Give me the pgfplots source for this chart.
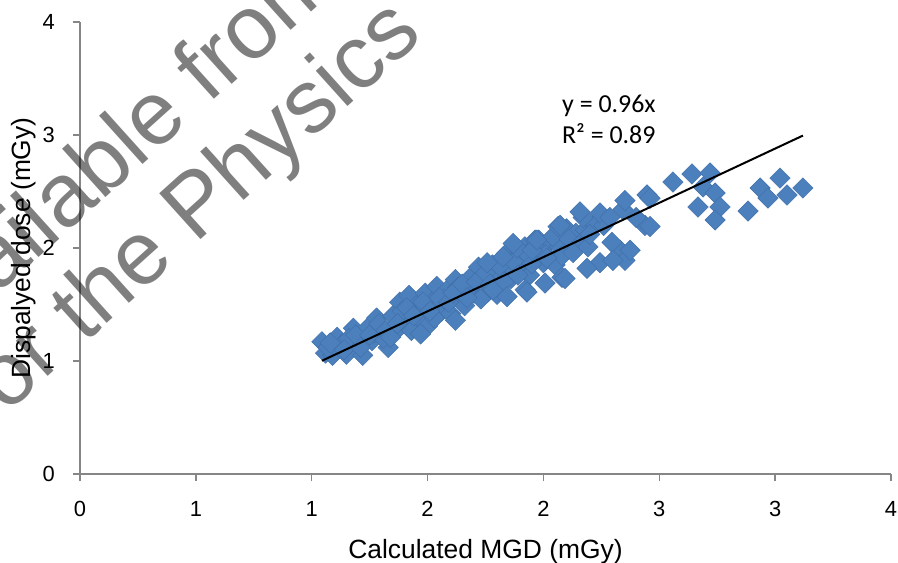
\documentclass[border=0pt]{standalone}
\usepackage{fontspec}
\setmainfont{Liberation Sans}
\newfontfamily\carlito{Carlito}
\usepackage{pgfplots}
\pgfplotsset{compat=1.18}
\definecolor{axgray}{RGB}{134,134,134}
\definecolor{mblue}{RGB}{76,128,189}
\definecolor{mblueedge}{RGB}{64,112,170}
\pgfplotstableread{
x y
1.044 1.17
1.06 1.07
1.09 1.05
1.11 1.21
1.13 1.15
1.15 1.06
1.18 1.29
1.20 1.18
1.22 1.05
1.24 1.29
1.26 1.18
1.28 1.38
1.30 1.30
1.33 1.12
1.35 1.40
1.36 1.26
1.38 1.52
1.40 1.36
1.42 1.58
1.43 1.27
1.45 1.49
1.47 1.37
1.49 1.60
1.50 1.31
1.52 1.52
1.54 1.66
1.56 1.44
1.58 1.62
1.60 1.42
1.62 1.72
1.64 1.59
1.66 1.49
1.68 1.73
1.70 1.60
1.72 1.83
1.74 1.72
1.76 1.61
1.78 1.85
1.80 1.59
1.82 1.79
1.84 1.95
1.86 1.73
1.88 1.91
1.90 1.80
1.92 2.01
1.94 1.76
1.96 1.94
1.98 2.07
2.00 1.87
2.02 2.04
2.05 1.85
2.07 2.01
2.10 2.17
2.12 1.98
2.14 2.13
2.17 2.06
1.07 1.12
1.16 1.20
1.27 1.25
1.31 1.20
1.39 1.44
1.46 1.46
1.53 1.38
1.57 1.55
1.63 1.65
1.69 1.66
1.73 1.55
1.79 1.72
1.85 1.85
1.91 1.88
1.47 1.24
1.62 1.36
1.08 1.16
1.14 1.10
1.19 1.23
1.21 1.12
1.25 1.23
1.29 1.33
1.32 1.27
1.34 1.21
1.37 1.33
1.41 1.47
1.44 1.40
1.48 1.52
1.51 1.44
1.55 1.56
1.59 1.52
1.61 1.60
1.65 1.68
1.67 1.56
1.71 1.70
1.75 1.78
1.77 1.68
1.81 1.84
1.83 1.70
1.87 1.88
1.89 1.76
1.93 1.95
1.95 1.86
1.97 2.00
2.01 1.94
2.04 2.10
2.08 1.93
2.11 2.08
2.15 2.02
2.18 2.16
2.22 2.21
2.26 2.20
1.886 2.00
1.964 2.07
2.063 2.19
2.171 2.27
2.244 2.31
2.287 2.27
2.343 2.34
2.352 2.42
2.128 1.96
2.192 2.01
2.244 1.87
2.188 1.82
2.080 1.74
2.007 1.69
1.921 1.63
2.331 1.98
2.352 1.89
2.296 2.05
2.015 1.91
1.951 1.98
1.869 2.04
2.447 2.47
2.438 2.20
2.374 1.98
2.300 1.89
2.158 2.32
2.072 2.20
2.093 1.73
1.929 1.61
1.972 2.07
1.826 1.92
1.757 1.87
1.782 1.63
1.843 1.57
2.46 2.44
2.46 2.19
2.20 2.12
2.40 2.27
2.559 2.584
2.641 2.655
2.719 2.664
2.689 2.540
2.741 2.487
2.667 2.363
2.762 2.363
2.741 2.248
2.883 2.327
2.935 2.531
2.969 2.442
3.021 2.619
3.051 2.469
3.120 2.531
}\datatable
\begin{document}
\begin{tikzpicture}
\begin{axis}[
  set layers,
  scale only axis, width=811bp, height=452bp,
  xmin=0, xmax=3.5, ymin=0, ymax=4,
  axis lines*=left,
  axis line style={axgray, line width=1.5bp},
  xtick={0,0.5,1,1.5,2,2.5,3,3.5},
  xticklabels={0,1,1,2,2,3,3,4},
  ytick={0,1,2,3,4},
  yticklabels={0,1,2,3,4},
  tick align=outside,
  major tick length=7bp,
  tick style={axgray, line width=1.5bp},
  ticklabel style={font=\fontsize{22}{26}\selectfont, text=black},
  xticklabel style={anchor=north, inner sep=0pt, yshift=-20bp},
  yticklabel style={anchor=east, inner sep=0pt, xshift=-18bp},
  clip=false,
]
\addplot[only marks, mark=square*, mark size=7.2bp,
  mark options={rotate=45, fill=mblue, draw=mblueedge, line width=0.5bp}]
  table[x=x, y=y] {\datatable};
\addplot[black, line width=2bp, on layer=axis foreground] coordinates {(1.044,1.002) (3.12,2.995)};
\node[anchor=base west, inner sep=0pt, font=\carlito\fontsize{26}{30}\selectfont]
  at (axis cs:2.08,3.195) {y = 0.96x};
\node[anchor=base west, inner sep=0pt, font=\carlito\fontsize{26}{30}\selectfont]
  at (axis cs:2.08,2.929) {R² = 0.89};
\node[font=\fontsize{26.5}{30}\selectfont] at (axis description cs:0.5,-0.172) {Calculated MGD (mGy)};
\node[rotate=90, font=\fontsize{26.5}{30}\selectfont] at (axis description cs:-0.0695,0.5) {Dispalyed dose (mGy)};
\end{axis}
\node[rotate=42, anchor=base west, inner sep=0pt, text=black, text opacity=0.5,
  font=\fontsize{90}{90}\selectfont] at (-159bp,110bp) {Available from};
\node[rotate=42, anchor=base west, inner sep=0pt, text=black, text opacity=0.5,
  font=\fontsize{90}{90}\selectfont] at (-92bp,43bp) {for the Physics};
\pgfresetboundingbox
\useasboundingbox (-80bp,-89bp) rectangle (818bp,474bp);
\end{tikzpicture}
\end{document}
